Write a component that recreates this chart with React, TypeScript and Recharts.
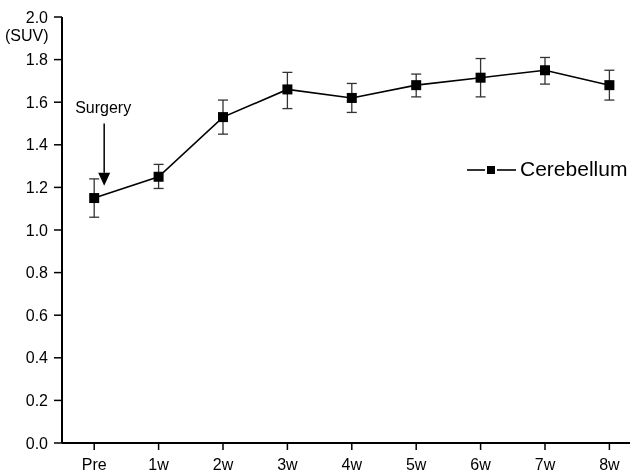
import React from 'react';
import { LineChart, Line, XAxis, YAxis, ErrorBar, ReferenceLine, Customized } from 'recharts';

const categories = ['Pre', '1w', '2w', '3w', '4w', '5w', '6w', '7w', '8w'];
const suvValues = [1.15, 1.25, 1.53, 1.66, 1.62, 1.68, 1.715, 1.75, 1.68];
const suvErrors: [number, number][] = [
  [0.09, 0.09], [0.055, 0.058], [0.08, 0.08], [0.09, 0.08], [0.068, 0.068],
  [0.055, 0.052], [0.09, 0.09], [0.065, 0.06], [0.07, 0.07],
];
const yTicks = [0, 0.2, 0.4, 0.6, 0.8, 1.0, 1.2, 1.4, 1.6, 1.8, 2.0];
const seriesName = 'Cerebellum';
const arrowX = 0.155;
const arrowTop = 1.5;
const arrowBottom = 1.208;

const data = categories.map((c, i) => ({ x: i, name: c, suv: suvValues[i], err: suvErrors[i] }));
const FONT = 'Liberation Sans, Arial, sans-serif';

const Square = (props: any) => {
  const { cx, cy } = props;
  if (cx == null || cy == null) return null;
  return <rect x={cx - 5} y={cy - 5} width={10} height={10} fill="#000" />;
};

const ArrowShape = (props: any) => {
  const { x1, y1, x2, y2 } = props;
  if (x1 == null) return null;
  const head = 13;
  return (
    <g>
      <text x={x1 - 29} y={y1 - 11} fontFamily={FONT} fontSize={16} fill="#000">Surgery</text>
      <line x1={x1} y1={y1} x2={x2} y2={y2 - head} stroke="#000" strokeWidth={1.5} />
      <polygon points={`${x2 - 6},${y2 - head} ${x2 + 6},${y2 - head} ${x2},${y2}`} fill="#000" />
    </g>
  );
};

const Extras = () => (
  <g>
    <text x={5} y={41} fontFamily={FONT} fontSize={16} fill="#000">(SUV)</text>
    <line x1={467} y1={170} x2={485} y2={170} stroke="#000" strokeWidth={1.6} />
    <rect x={487} y={166} width={8} height={8} fill="#000" />
    <line x1={497} y1={170} x2={516} y2={170} stroke="#000" strokeWidth={1.6} />
    <text x={520} y={176} fontFamily={FONT} fontSize={21} fill="#000">{seriesName}</text>
  </g>
);

export default function App() {
  return (
    <div style={{ position: 'fixed', left: 0, top: 0 }}>
      <LineChart width={630} height={473} data={data} margin={{ top: 17, right: 0, bottom: 0, left: 0 }}>
        <XAxis
          dataKey="x"
          type="number"
          domain={[-0.5, 8.32]}
          ticks={categories.map((_, i) => i)}
          tickFormatter={(v: number) => categories[v]}
          allowDataOverflow
          height={30}
          tickSize={7}
          tickMargin={9}
          stroke="#000"
          axisLine={{ stroke: '#000', strokeWidth: 2 }}
          tickLine={{ stroke: '#000', strokeWidth: 1.5 }}
          tick={{ fill: '#000', fontSize: 16, fontFamily: FONT }}
        />
        <YAxis
          type="number"
          domain={[0, 2]}
          ticks={yTicks}
          tickFormatter={(v: number) => v.toFixed(1)}
          width={62}
          tickSize={8}
          tickMargin={6}
          axisLine={{ stroke: '#000', strokeWidth: 2 }}
          tickLine={{ stroke: '#000', strokeWidth: 1.5 }}
          tick={{ fill: '#000', fontSize: 16, fontFamily: FONT }}
        />
        <Customized component={Extras} />
        <ReferenceLine
          segment={[{ x: arrowX, y: arrowTop }, { x: arrowX, y: arrowBottom }]}
          shape={ArrowShape}
          ifOverflow="visible"
        />
        <Line
          type="linear"
          dataKey="suv"
          name={seriesName}
          stroke="#000"
          strokeWidth={1.6}
          dot={<Square />}
          activeDot={false}
          isAnimationActive={false}
        >
          <ErrorBar dataKey="err" width={5} stroke="#333" strokeWidth={1.3} direction="y" isAnimationActive={false} />
        </Line>
      </LineChart>
    </div>
  );
}
